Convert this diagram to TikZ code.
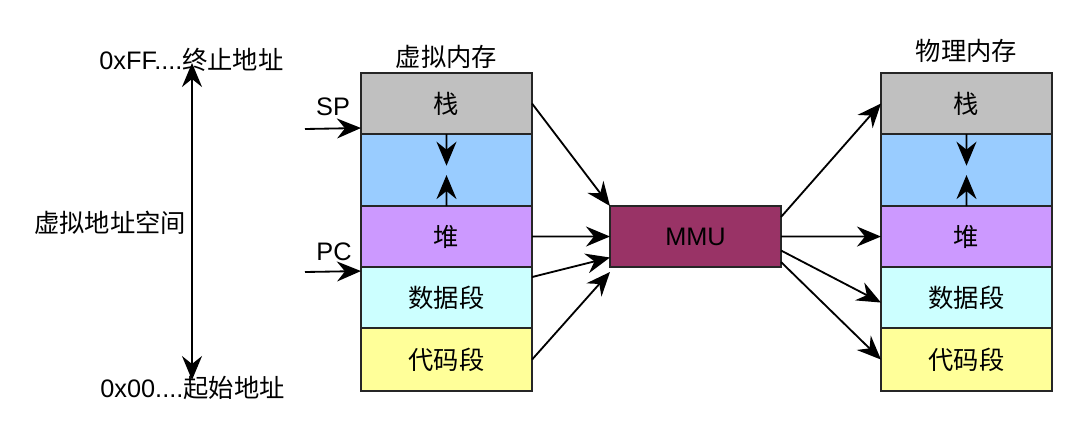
\documentclass[tikz,border=0pt]{standalone}
\usepackage{fontspec}
\setmainfont{Liberation Sans}
\newfontfamily\cjk{Noto Sans CJK SC}
\usetikzlibrary{arrows.meta,calc}
\definecolor{stackgray}{HTML}{C0C0C0}
\definecolor{freeblue}{HTML}{99CCFF}
\definecolor{heappurple}{HTML}{CC99FF}
\definecolor{datacyan}{HTML}{CCFFFF}
\definecolor{codeyellow}{HTML}{FFFF99}
\definecolor{mmured}{HTML}{993366}
\begin{document}
\begin{tikzpicture}[x=0.025cm,y=-0.025cm,
		spitze/.tip={Stealth[length=0.6cm,width=0.5cm,inset=0.2cm]},
		seg/.style={draw=black!85, line width=0.9pt, minimum width=4.275cm,
			inner sep=0pt, outer sep=0pt, anchor=north,
			font=\fontsize{18}{20}\selectfont\cjk},
		lbl/.style={inner sep=0pt, font=\fontsize{18}{20}\selectfont},
		pfeil/.style={-spitze, line width=1.3pt}]
		\useasboundingbox (0,0) rectangle (1080,435);
		% Adressraum
		\node[lbl] (topaddr) at (191.5,60) {0xFF....{\cjk 终止地址}};
		\node[lbl] (botaddr) at (192.5,388) {0x00....{\cjk 起始地址}};
		\node[lbl, font=\fontsize{18}{20}\selectfont\cjk] (vspace) at (110,223) {虚拟地址空间};
		\coordinate (atop) at (192,63);
		\coordinate (abot) at (192,380);
		\draw[pfeil, spitze-spitze] (atop) -- (abot);
		% Speichersegmente (virtuell / physisch)
		\foreach \p/\x in {v/446.5, p/966.5} {
			\node[seg, fill=stackgray, minimum height=1.525cm] (\p stack) at (\x,73) {栈};
			\node[seg, fill=freeblue, minimum height=1.8cm] (\p free) at (\p stack.south) {};
			\node[seg, fill=heappurple, minimum height=1.525cm] (\p heap) at (\p free.south) {堆};
			\node[seg, fill=datacyan, minimum height=1.525cm] (\p data) at (\p heap.south) {数据段};
			\node[seg, fill=codeyellow, minimum height=1.575cm] (\p code) at (\p data.south) {代码段};
			\draw[pfeil] (\p stack.south) -- ($(\p stack.south)!0.44!(\p free.south)$);
			\draw[pfeil] (\p free.south) -- ($(\p stack.south)!0.57!(\p free.south)$);
		}
		\node[lbl, font=\fontsize{18}{20}\selectfont\cjk] (vtitle) at (446.5,57) {虚拟内存};
		\node[lbl, font=\fontsize{18}{20}\selectfont\cjk] (ptitle) at (966.5,51) {物理内存};
		% Register
		\node[lbl] (sp) at (333,107) {SP};
		\node[lbl] (pc) at (334,252) {PC};
		\coordinate (spin) at (305,129);
		\coordinate (pcin) at (305,272);
		\draw[pfeil] (spin) -- ($(vstack.south west)+(0,-6)$);
		\draw[pfeil] (pcin) -- ($(vdata.north west)+(0,4)$);
		% MMU
		\node[draw=black!85, line width=0.9pt, fill=mmured, minimum width=4.275cm,
			minimum height=1.525cm, inner sep=0pt, outer sep=0pt,
			font=\fontsize{18}{20}\selectfont] (mmu) at (695.5,236.5) {MMU};
		\draw[pfeil] (vstack.east) -- (mmu.north west);
		\draw[pfeil] (vheap.east) -- (mmu.west);
		\draw[pfeil] ($(vdata.north east)+(0,10)$) -- ($(mmu.west)+(0,21)$);
		\draw[pfeil] (vcode.east) -- ($(mmu.south west)+(0,5)$);
		\draw[pfeil] ($(mmu.north east)+(0,11)$) -- (pstack.west);
		\draw[pfeil] (mmu.east) -- (pheap.west);
		\draw[pfeil] ($(mmu.east)+(0,14)$) -- ($(pdata.west)+(0,5)$);
		\draw[pfeil] ($(mmu.south east)+(0,-5)$) -- (pcode.west);
	\end{tikzpicture}
\end{document}
